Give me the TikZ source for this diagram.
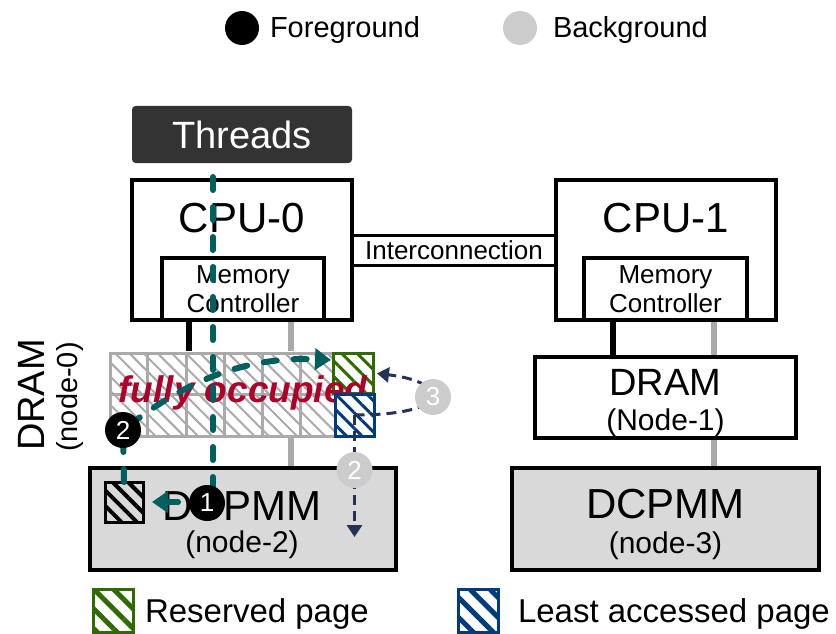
\documentclass[tikz,border=0pt]{standalone}
\usepackage{fontspec}
\setmainfont{Liberation Sans}
\usepackage{tikz}
\usetikzlibrary{
	arrows.meta,
	positioning,
	calc,
	patterns.meta
}

\definecolor{fgteal}{RGB}{0,96,96}
\definecolor{bgnavy}{RGB}{35,50,85}
\definecolor{rsvgreen}{RGB}{46,107,0}
\definecolor{lapblue}{RGB}{0,60,125}
\definecolor{busgray}{RGB}{170,170,170}
\definecolor{dimmfill}{RGB}{217,217,217}
\definecolor{occred}{RGB}{176,0,40}
\definecolor{thrgray}{RGB}{51,51,51}

\newcommand{\pxfont}[1]{\fontsize{#1}{#1}\selectfont}

\begin{document}
\begin{tikzpicture}[
			x=1pt, y=-1pt,
			every node/.style={inner sep=0pt, outer sep=0pt},
			box/.style={draw, line width=4pt},
			dimm/.style={box, fill=dimmfill, minimum width=306pt, minimum height=102pt},
			page/.style={draw=#1, line width=3pt, pattern={Lines[angle=-45, distance=11pt, line width=3pt]}, pattern color=#1, minimum width=40pt, minimum height=40pt},
			key/.style={draw=#1, line width=3pt, pattern={Lines[angle=-45, distance=14pt, line width=5pt]}, pattern color=#1, minimum width=40pt, minimum height=43pt},
			bus/.style={line width=6pt, shorten <=2pt, shorten >=2pt},
			fl/.style={fgteal, line width=6pt, line cap=round, dash pattern=on 13pt off 17pt, -{Triangle[length=16pt, width=21pt]}},
			bl/.style={bgnavy, line width=3pt, dash pattern=on 10pt off 6pt, -{Triangle[length=12pt, width=15pt]}},
			fgnum/.style={circle, fill=black, text=white, minimum size=36pt, font=\pxfont{26}},
			bgnum/.style={fgnum, fill=black!20}
		]
		\useasboundingbox (0,0) rectangle (836,634);

		\node[fgnum, minimum size=34pt] (kfg) at (242,28) {};
		\node[anchor=base west, font=\pxfont{29}] (kfgt) at (270,38) {Foreground};
		\node[bgnum, minimum size=34pt] (kbg) at (520,28) {};
		\node[anchor=base west, font=\pxfont{29}] (kbgt) at (553,38) {Background};

		\node[box, minimum width=220pt, minimum height=140pt] (cpu0) at (242,250) {};
		\node[box, draw=thrgray, fill=thrgray, rounded corners=2pt, minimum width=216pt, minimum height=53pt, text=white, font=\pxfont{38}, above=19pt of cpu0] (thr) {Threads};
		\node[anchor=base, font=\pxfont{42}] (cpu0t) at ([yshift=-52pt]cpu0.north) {CPU-0};
		\node[box, minimum width=162pt, minimum height=62pt, anchor=south, align=center, font=\fontsize{26}{29}\selectfont] (mc0) at ([xshift=1pt]cpu0.south) {Memory\\Controller};

		\node[box, minimum width=220pt, minimum height=140pt, right=204pt of cpu0] (cpu1) {};
		\node[anchor=base, font=\pxfont{42}] (cpu1t) at ([yshift=-52pt]cpu1.north) {CPU-1};
		\node[box, minimum width=163pt, minimum height=62pt, anchor=south, align=center, font=\fontsize{26}{29}\selectfont] (mc1) at ([xshift=-0.5pt]cpu1.south) {Memory\\Controller};

		\node[font=\pxfont{26}] (ic) at ($(cpu0.east)!0.5!(cpu1.west)$) {Interconnection};
		\draw[line width=3pt] ([yshift=15pt]cpu0.east) -- ([yshift=15pt]cpu1.west)
			([yshift=-15pt]cpu0.east) -- ([yshift=-15pt]cpu1.west);

		\node[draw=busgray, line width=3pt, preaction={fill=white}, pattern={Lines[angle=-45, distance=10pt, line width=2pt]}, pattern color=busgray, minimum width=228pt, minimum height=83pt] (dram0) at (224,394.5) {};
		\foreach \i in {1,...,5}
			\draw[busgray, line width=3pt] ($(dram0.north west)!\i/6!(dram0.north east)$) -- ($(dram0.south west)!\i/6!(dram0.south east)$);
		\draw[busgray, line width=3pt] (dram0.west) -- (dram0.east);
		\node[rotate=90, font=\pxfont{38}] (dram0t) at (31,395) {DRAM};
		\node[rotate=90, font=\pxfont{29}] (dram0n) at (70,397) {(node-0)};

		\node[page=rsvgreen, preaction={fill=white}] (rsv) at (353,373) {};
		\node[anchor=base, font=\pxfont{37}\bfseries\itshape, text=occred] (occ) at (243,402) {fully occupied};
		\node[page=lapblue, preaction={fill=white}, minimum width=39pt, minimum height=42pt] (lap) at (354.5,415) {};

		\node[dimm] (dcpmm2) at (243,519) {};
		\node[anchor=base, font=\pxfont{42}] (dcpmm2t) at (242,520) {DCPMM};
		\node[anchor=base, font=\pxfont{30}] (dcpmm2n) at (242,552) {(node-2)};
		\node[page=black, minimum width=38pt, pattern={Lines[angle=-45, distance=11pt, line width=4pt]}] (blk) at (124,502) {};

		\node[box, minimum width=261pt, minimum height=81pt] (dram1) at (665.5,397.5) {};
		\node[anchor=base, font=\pxfont{38}] (dram1t) at (665.5,395) {DRAM};
		\node[anchor=base, font=\pxfont{30}] (dram1n) at (665.5,430) {(Node-1)};
		\node[dimm, minimum width=307pt] (dcpmm3) at (665.5,519) {};
		\node[anchor=base, font=\pxfont{42}] (dcpmm3t) at (665.5,518) {DCPMM};
		\node[anchor=base, font=\pxfont{30}] (dcpmm3n) at (665.5,553) {(node-3)};

		\draw[bus] ([xshift=-54pt]mc0.south) -- ([xshift=-54pt]mc0.south |- dram0.north);
		\draw[bus, busgray] ([xshift=48pt]mc0.south) -- ([xshift=48pt]mc0.south |- dram0.north);
		\draw[bus, busgray] ([xshift=48pt]mc0.south |- dram0.south) -- ([xshift=48pt]mc0.south |- dcpmm2.north);
		\draw[bus] ([xshift=-52.5pt]mc1.south) -- ([xshift=-52.5pt]mc1.south |- dram1.north);
		\draw[bus, busgray] ([xshift=48.5pt]mc1.south) -- ([xshift=48.5pt]mc1.south |- dram1.north);
		\draw[bus, busgray] ([xshift=48.5pt]mc1.south |- dram1.south) -- ([xshift=48.5pt]mc1.south |- dcpmm3.north);

		\coordinate (thr0) at (213,177);
		\coordinate (p1) at (207,503);
		\coordinate (p2) at (123,430);
		\coordinate (q2) at (354.5,470);
		\coordinate (q3) at (433,397);
		\coordinate (lapend) at (354.5,537);

		\draw[fl, shorten >=9pt] (thr0) |- (blk.east);
		\draw[fl, shorten >=2pt] (blk.north) -- (p2) .. controls (180,385) and (240,356) .. ([yshift=13pt]rsv.west);
		\draw[bl] (lap.center) -- (lapend);
		\draw[bl, shorten >=4pt] (lap.center) .. controls (455,415) and (450,382) .. (rsv.east);

		\node[fgnum] (n1) at (p1) {1};
		\node[fgnum] (n2) at (p2) {2};
		\node[bgnum] (m2) at (q2) {2};
		\node[bgnum] (m3) at (q3) {3};

		\node[key=rsvgreen] (krsv) at (113,610.5) {};
		\node[anchor=base west, font=\pxfont{33}] (krsvt) at (145,622) {Reserved page};
		\node[key=lapblue] (klap) at (478,610.5) {};
		\node[anchor=base west, font=\pxfont{33}] (klapt) at (518,622) {Least accessed page};
	\end{tikzpicture}
\end{document}
